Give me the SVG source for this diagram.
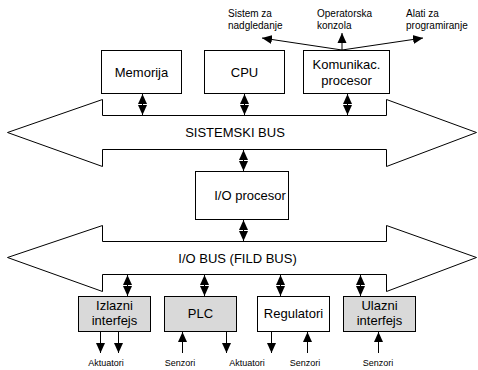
<svg xmlns="http://www.w3.org/2000/svg" width="478" height="370" viewBox="0 0 478 370">
<defs>
<marker id="ah" markerUnits="userSpaceOnUse" markerWidth="12" markerHeight="10" refX="10" refY="5" orient="auto-start-reverse" viewBox="0 0 12 10">
<path d="M0,0.5 L10,5 L0,9.5 Z" fill="#000"/>
</marker>
</defs>
<style>
text{font-family:"Liberation Sans",Arial,sans-serif;fill:#000}
.t{font-size:13px;text-anchor:middle}
.s{font-size:10px}
.b{font-size:9px;text-anchor:middle}
.box{fill:#fff;stroke:#000;stroke-width:1}
.gbox{fill:#d9d9d9;stroke:#000;stroke-width:1}
.bus{fill:#fff;stroke:#000;stroke-width:1;stroke-linejoin:miter}
.c{stroke:#000;stroke-width:1;fill:none}
.d{stroke:#000;stroke-width:1;fill:none;marker-start:url(#ah);marker-end:url(#ah)}
.a{stroke:#000;stroke-width:1;fill:none;marker-end:url(#ah)}
</style>
<rect width="478" height="370" fill="#fff"/>

<g id="sistemski-bus">
<polygon class="bus" points="102.5,115.5 386.5,115.5 386.5,99.5 476.5,132.5 386.5,166.5 386.5,149.5 102.5,149.5 102.5,166.5 7.5,132.5 102.5,99.5"/>
<text class="t" x="235" y="137">SISTEMSKI BUS</text>
</g>
<g id="io-bus">
<polygon class="bus" points="102.5,241.5 386.5,241.5 386.5,225.5 476.5,257.5 386.5,291.5 386.5,274.5 102.5,274.5 102.5,291.5 7.5,257.5 102.5,225.5"/>
<text class="t" x="237.5" y="263">I/O BUS (FILD BUS)</text>
</g>

<g id="memorija">
<rect class="box" x="101.5" y="50.5" width="80" height="43"/>
<text class="t" x="141.5" y="77">Memorija</text>
</g>
<g id="cpu">
<rect class="box" x="204.5" y="50.5" width="80" height="43"/>
<text class="t" x="244.5" y="77">CPU</text>
</g>
<g id="komunikac">
<rect class="box" x="303.5" y="50.5" width="86" height="43"/>
<text class="t" x="346.5" y="69">Komunikac.</text>
<text class="t" x="346.5" y="85">procesor</text>
</g>
<g id="io-procesor">
<rect class="box" x="195.5" y="171.5" width="93" height="48"/>
<text class="t" x="250" y="200">I/O procesor</text>
</g>
<g id="izlazni">
<rect class="gbox" x="78.5" y="296.5" width="72" height="35"/>
<text class="t" x="114.5" y="310">Izlazni</text>
<text class="t" x="114.5" y="325">interfejs</text>
</g>
<g id="plc">
<rect class="gbox" x="164.5" y="296.5" width="72" height="35"/>
<text class="t" x="200.5" y="318">PLC</text>
</g>
<g id="regulatori">
<rect class="box" x="257.5" y="296.5" width="72" height="35"/>
<text class="t" x="293.5" y="318">Regulatori</text>
</g>
<g id="ulazni">
<rect class="gbox" x="343.5" y="296.5" width="72" height="35"/>
<text class="t" x="379.5" y="310">Ulazni</text>
<text class="t" x="379.5" y="325">interfejs</text>
</g>

<g id="labels">
<text class="s" x="228" y="17">Sistem za</text>
<text class="s" x="228" y="29">nadgledanje</text>
<text class="s" x="317" y="17">Operatorska</text>
<text class="s" x="317" y="29">konzola</text>
<text class="s" x="406" y="17">Alati za</text>
<text class="s" x="406" y="29">programiranje</text>
<text class="b" x="106" y="366">Aktuatori</text>
<text class="b" x="180" y="366">Senzori</text>
<text class="b" x="247" y="366">Aktuatori</text>
<text class="b" x="305" y="366">Senzori</text>
<text class="b" x="378" y="366">Senzori</text>
</g>

<g id="connectors">
<line class="a" x1="342" y1="50" x2="262" y2="38"/>
<line class="a" x1="342" y1="50" x2="342" y2="33"/>
<line class="a" x1="342" y1="50" x2="423" y2="38"/>
<line class="d" x1="142.5" y1="94" x2="142.5" y2="115"/>
<line class="d" x1="244.5" y1="94" x2="244.5" y2="115"/>
<line class="d" x1="347.5" y1="94" x2="347.5" y2="115"/>
<line class="d" x1="243.5" y1="150" x2="243.5" y2="171"/>
<line class="d" x1="243.5" y1="220" x2="243.5" y2="241"/>
<line class="d" x1="127.5" y1="275" x2="127.5" y2="296"/>
<line class="d" x1="204.5" y1="275" x2="204.5" y2="296"/>
<line class="d" x1="280.5" y1="275" x2="280.5" y2="296"/>
<line class="d" x1="360.5" y1="275" x2="360.5" y2="296"/>
<line class="a" x1="100.5" y1="332" x2="100.5" y2="353"/>
<line class="a" x1="118.5" y1="332" x2="118.5" y2="353"/>
<line class="a" x1="182.5" y1="353" x2="182.5" y2="332"/>
<line class="a" x1="226.5" y1="332" x2="226.5" y2="353"/>
<line class="a" x1="271.5" y1="332" x2="271.5" y2="353"/>
<line class="a" x1="307.5" y1="353" x2="307.5" y2="332"/>
<line class="a" x1="378.5" y1="353" x2="378.5" y2="332"/>
</g>
</svg>
